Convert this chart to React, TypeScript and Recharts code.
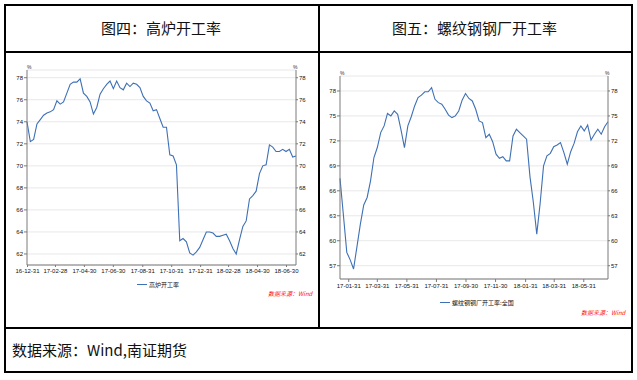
import React from "react";
import { CartesianGrid, Legend, Line, LineChart, XAxis, YAxis } from "recharts";

// 图四：高炉开工率（周度）
const blastDates = [
  "2016-12-30", "2017-01-06", "2017-01-13", "2017-01-20", "2017-01-27", "2017-02-03", "2017-02-10", "2017-02-17",
  "2017-02-24", "2017-03-03", "2017-03-10", "2017-03-17", "2017-03-24", "2017-03-31", "2017-04-07", "2017-04-14",
  "2017-04-21", "2017-04-28", "2017-05-05", "2017-05-12", "2017-05-19", "2017-05-26", "2017-06-02", "2017-06-09",
  "2017-06-16", "2017-06-23", "2017-06-30", "2017-07-07", "2017-07-14", "2017-07-21", "2017-07-28", "2017-08-04",
  "2017-08-11", "2017-08-18", "2017-08-25", "2017-09-01", "2017-09-08", "2017-09-15", "2017-09-22", "2017-09-29",
  "2017-10-06", "2017-10-13", "2017-10-20", "2017-10-27", "2017-11-03", "2017-11-10", "2017-11-17", "2017-11-24",
  "2017-12-01", "2017-12-08", "2017-12-15", "2017-12-22", "2017-12-29", "2018-01-05", "2018-01-12", "2018-01-19",
  "2018-01-26", "2018-02-02", "2018-02-09", "2018-02-16", "2018-02-23", "2018-03-02", "2018-03-09", "2018-03-16",
  "2018-03-23", "2018-03-30", "2018-04-06", "2018-04-13", "2018-04-20", "2018-04-27", "2018-05-04", "2018-05-11",
  "2018-05-18", "2018-05-25", "2018-06-01", "2018-06-08", "2018-06-15", "2018-06-22", "2018-06-29", "2018-07-06",
  "2018-07-13", "2018-07-20",
];
const blastRate = [
  74.0, 72.2, 72.4, 73.8, 74.2, 74.6, 74.8, 74.9, 75.1, 75.9, 75.6, 75.8, 76.6, 77.4, 77.6, 77.6,
  77.9, 76.6, 76.3, 75.8, 74.7, 75.3, 76.5, 77.0, 77.4, 77.7, 77.0, 77.7, 77.1, 76.9, 77.5, 77.2,
  77.5, 77.4, 77.1, 76.3, 75.9, 75.7, 75.0, 75.1, 74.3, 73.5, 73.5, 71.0, 70.9, 70.1, 63.2, 63.4,
  63.1, 62.1, 61.9, 62.2, 62.6, 63.3, 64.0, 64.0, 63.9, 63.6, 63.6, 63.7, 63.8, 63.2, 62.5, 62.0,
  63.3, 64.5, 65.0, 67.0, 67.3, 67.7, 69.3, 70.0, 70.1, 71.9, 71.7, 71.3, 71.3, 71.5, 71.3, 71.5,
  70.8, 70.9,
];
const blastXTicks = [
  "16-12-31", "17-02-28", "17-04-30", "17-06-30", "17-08-31",
  "17-10-31", "17-12-31", "18-02-28", "18-04-30", "18-06-30",
];
const blastYTicks = [62, 64, 66, 68, 70, 72, 74, 76, 78];

// 图五：螺纹钢钢厂开工率（周度）
const rebarDates = blastDates.slice(2);
const rebarRate = [
  67.5, 63.1, 58.6, 57.7, 56.6, 59.3, 62.0, 64.3, 65.2, 67.2, 70.0, 71.2, 73.0, 73.8, 75.3, 75.0,
  75.6, 75.2, 73.3, 71.2, 73.8, 74.9, 76.2, 77.2, 77.5, 77.9, 77.9, 78.4, 77.0, 76.6, 76.4, 75.8,
  75.1, 74.8, 75.0, 75.6, 76.9, 77.7, 77.1, 76.8, 75.8, 74.4, 74.2, 72.4, 72.8, 71.9, 70.4, 69.9,
  70.1, 69.6, 69.6, 72.6, 73.4, 73.0, 72.6, 72.2, 67.7, 64.6, 60.8, 64.5, 69.0, 70.2, 70.5, 71.3,
  71.5, 71.8, 70.6, 69.2, 70.7, 71.7, 73.1, 73.8, 73.2, 73.9, 72.1, 72.8, 73.4, 72.8, 73.7, 74.3,
];
const rebarXTicks = [
  "17-01-31", "17-03-31", "17-05-31", "17-07-31", "17-09-30",
  "17-11-30", "18-01-31", "18-03-31", "18-05-31",
];
const rebarYTicks = [57, 60, 63, 66, 69, 72, 75, 78];

const AXIS = "#7a7a7a";
const GRID = "#e8e8e8";
const LINE = "#3e70b5";
const CJK = '"Noto Sans CJK SC", "Noto Sans", sans-serif';
const tickStyle = { fontSize: 6, fill: "#111", fontFamily: "Liberation Sans, Arial, sans-serif" };

const toTs = (d: string) => Date.parse(d);
const fmtTs = (t: number) => new Date(t).toISOString().slice(2, 10);

type PanelProps = {
  left: number;
  width: number;
  height: number;
  margin: { top: number; left: number; right: number; bottom: number };
  leftAxisWidth: number;
  rightAxisWidth: number;
  dates: string[];
  values: number[];
  xTicks: string[];
  yTicks: number[];
  yDomain: [number, number];
  xTickSize: number;
  name: string;
  legendPos: { left: number; top: number };
  markPos: { left: number; top: number };
};

function SeriesLegend({ name }: { name: string }) {
  return (
    <div style={{ display: "flex", alignItems: "center", fontFamily: CJK, fontSize: 6, color: "#111", whiteSpace: "nowrap" }}>
      <span style={{ display: "inline-block", width: 10, borderTop: `1px solid ${LINE}`, marginRight: 2 }} />
      <span>{name}</span>
    </div>
  );
}

function Panel(p: PanelProps) {
  const data = p.dates.map((d, i) => ({ t: toTs(d), v: p.values[i] }));
  const ticks = p.xTicks.map((s) => toTs("20" + s));
  const plotLeft = p.margin.left + p.leftAxisWidth;
  const plotRight = p.width - p.margin.right - p.rightAxisWidth;
  return (
    <div style={{ position: "absolute", left: p.left, top: 0, width: p.width, height: p.height }}>
      <LineChart width={p.width} height={p.height} data={data} margin={p.margin}>
        <CartesianGrid yAxisId="l" vertical={false} stroke={GRID} strokeWidth={1} />
        <XAxis
          dataKey="t"
          type="number"
          domain={[data[0].t, data[data.length - 1].t]}
          ticks={ticks}
          tickFormatter={fmtTs}
          tick={tickStyle}
          stroke={AXIS}
          tickSize={p.xTickSize}
          tickMargin={2}
          height={20}
          interval={0}
        />
        <YAxis
          yAxisId="l"
          domain={p.yDomain}
          allowDataOverflow
          ticks={p.yTicks}
          tick={tickStyle}
          stroke={AXIS}
          tickSize={3}
          tickMargin={1}
          width={p.leftAxisWidth}
          interval={0}
        />
        <YAxis
          yAxisId="r"
          orientation="right"
          type="number"
          domain={p.yDomain}
          allowDataOverflow
          ticks={p.yTicks}
          tick={tickStyle}
          stroke={AXIS}
          tickSize={2}
          tickMargin={1}
          width={p.rightAxisWidth}
          interval={0}
        />
        <Line
          yAxisId="l"
          type="linear"
          dataKey="v"
          name={p.name}
          stroke={LINE}
          strokeWidth={1.1}
          dot={false}
          isAnimationActive={false}
        />
        <Legend
          layout="horizontal"
          verticalAlign="middle"
          align="center"
          wrapperStyle={{ left: p.legendPos.left, top: p.legendPos.top, width: "auto" }}
          content={() => <SeriesLegend name={p.name} />}
        />
      </LineChart>
      <div style={{ position: "absolute", left: plotLeft, top: p.margin.top - 5, fontSize: 5, fontFamily: "Liberation Sans", color: "#333", lineHeight: "5px" }}>%</div>
      <div style={{ position: "absolute", left: plotRight - 3, top: p.margin.top - 5, fontSize: 5, fontFamily: "Liberation Sans", color: "#333", lineHeight: "5px" }}>%</div>
      <div
        style={{
          position: "absolute",
          left: p.markPos.left,
          top: p.markPos.top,
          fontSize: 6,
          fontStyle: "italic",
          color: "#ff1010",
          fontFamily: CJK,
          whiteSpace: "nowrap",
          lineHeight: "8px",
        }}
      >
        数据来源：Wind
      </div>
    </div>
  );
}

const line = (s: React.CSSProperties): React.CSSProperties => ({ position: "absolute", background: "#000", ...s });

export default function App() {
  return (
    <div style={{ position: "absolute", left: 0, top: 0, width: 637, height: 380, background: "#fff", overflow: "hidden" }}>
      <Panel
        left={0}
        width={318}
        height={327}
        margin={{ top: 70, left: 10, right: 5, bottom: 42 }}
        leftAxisWidth={17}
        rightAxisWidth={17}
        dates={blastDates}
        values={blastRate}
        xTicks={blastXTicks}
        yTicks={blastYTicks}
        yDomain={[61, 78.7]}
        xTickSize={2}
        name="高炉开工率"
        legendPos={{ left: 137, top: 280 }}
        markPos={{ left: 268, top: 290 }}
      />
      <Panel
        left={318}
        width={313}
        height={327}
        margin={{ top: 76, left: 8, right: 6, bottom: 28 }}
        leftAxisWidth={14}
        rightAxisWidth={17}
        dates={rebarDates}
        values={rebarRate}
        xTicks={rebarXTicks}
        yTicks={rebarYTicks}
        yDomain={[55.4, 79.8]}
        xTickSize={3}
        name="螺纹钢钢厂开工率:全国"
        legendPos={{ left: 122, top: 298 }}
        markPos={{ left: 263, top: 309 }}
      />

      <div style={{ position: "absolute", left: 4, top: 4, width: 314, height: 47, display: "flex", alignItems: "center", justifyContent: "center", fontFamily: CJK, fontSize: 15, color: "#111" }}>
        图四：高炉开工率
      </div>
      <div style={{ position: "absolute", left: 318, top: 4, width: 313, height: 47, display: "flex", alignItems: "center", justifyContent: "center", fontFamily: CJK, fontSize: 15, color: "#111" }}>
        图五：螺纹钢钢厂开工率
      </div>
      <div style={{ position: "absolute", left: 12, top: 327, height: 45, display: "flex", alignItems: "center", fontFamily: CJK, fontSize: 15, color: "#111", whiteSpace: "nowrap" }}>
        数据来源：Wind,南证期货
      </div>

      <div style={line({ left: 4, top: 4, width: 627, height: 1.5 })} />
      <div style={line({ left: 4, top: 51, width: 627, height: 1.5 })} />
      <div style={line({ left: 4, top: 327, width: 627, height: 1.5 })} />
      <div style={line({ left: 4, top: 371, width: 628.5, height: 1.5 })} />
      <div style={line({ left: 4, top: 4, width: 1.5, height: 368 })} />
      <div style={line({ left: 318, top: 4, width: 1.5, height: 323 })} />
      <div style={line({ left: 631, top: 4, width: 1.5, height: 368 })} />
    </div>
  );
}
